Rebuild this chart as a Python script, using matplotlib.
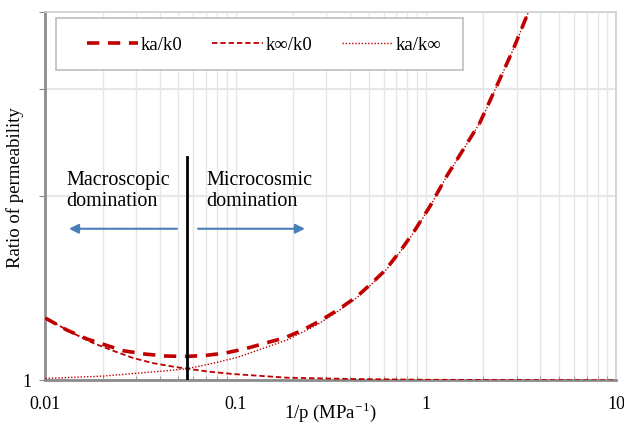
import numpy as np
import matplotlib
matplotlib.use("Agg")
import matplotlib.pyplot as plt
from matplotlib.patches import Rectangle
from matplotlib.ticker import LogLocator, NullFormatter, FixedLocator

plt.rcParams['font.family'] = ['Liberation Serif', 'DejaVu Serif']
plt.rcParams['mathtext.fontset'] = 'stix'

# values
x_ka_k0 = [0.01, 0.01293, 0.01647, 0.02055, 0.02556, 0.03336, 0.04249, 0.05412,
           0.06897, 0.08786, 0.1119, 0.1426, 0.1816, 0.2259, 0.2775, 0.345, 0.4345,
           0.508, 0.6095, 0.7311, 0.859, 1.051, 1.286, 1.574, 1.925, 2.357, 2.881,
           3.453, 3.65]
y_ka_k0 = [1.264, 1.209, 1.169, 1.143, 1.118, 1.104, 1.096, 1.094,
           1.098, 1.108, 1.126, 1.150, 1.174, 1.209, 1.251, 1.304, 1.371,
           1.433, 1.512, 1.625, 1.744, 1.926, 2.157, 2.386, 2.641, 3.029, 3.479,
           3.997, 4.17]

x_kinf_k0 = [0.01, 0.01345, 0.01777, 0.02264, 0.02884, 0.03674, 0.04681, 0.05546,
             0.07063, 0.09683, 0.1861, 0.414, 1.0, 3.0, 10.0]
y_kinf_k0 = [1.265, 1.201, 1.151, 1.118, 1.088, 1.067, 1.053, 1.045,
             1.034, 1.024, 1.010, 1.005, 1.002, 1.001, 1.0]

x_ka_kinf = [0.01, 0.02006, 0.03027, 0.04355, 0.05546, 0.07597, 0.0826, 0.1028,
             0.1861, 0.2675, 0.345, 0.4345, 0.508, 0.6095, 0.7311, 0.859, 1.051,
             1.286, 1.574, 1.925, 2.357, 2.881, 3.453, 3.65]
y_ka_kinf = [1.007, 1.016, 1.027, 1.037, 1.045, 1.066, 1.073, 1.091,
             1.164, 1.232, 1.297, 1.366, 1.428, 1.508, 1.621, 1.741, 1.923,
             2.155, 2.384, 2.639, 3.027, 3.477, 3.995, 4.17]

x_split = 0.0555
x_ticks = [0.01, 0.1, 1, 10]
x_tick_labels = ['0.01', '0.1', '1', '10']
y_ticks = [1, 2, 3, 4]
y_tick_labels = ['1', '', '', '']

red = '#C00000'
blue = '#4A7EBB'

fig = plt.figure(figsize=(6.24, 4.23), dpi=100)
ax = fig.add_axes([0.0729, 0.1009, 0.9143, 0.87])

ax.plot(x_ka_k0, y_ka_k0, color=red, lw=2.6, dashes=(3.4, 2.4), label='ka/k0', zorder=3)
ax.plot(x_kinf_k0, y_kinf_k0, color=red, lw=1.3, dashes=(3, 1.6), label='k∞/k0', zorder=3)
ax.plot(x_ka_kinf, y_ka_kinf, color=red, lw=1.0, dashes=(1, 1.3), label='ka/k∞', zorder=3)

ax.set_xscale('log')
ax.set_yscale('log')
ax.set_xlim(0.01, 10)
ax.set_ylim(1, 4)

ax.xaxis.set_major_locator(FixedLocator(x_ticks))
ax.set_xticklabels(x_tick_labels)
ax.xaxis.set_minor_locator(LogLocator(base=10, subs=np.arange(2, 10)))
ax.xaxis.set_minor_formatter(NullFormatter())
ax.yaxis.set_major_locator(FixedLocator(y_ticks))
ax.set_yticklabels(y_tick_labels)
ax.yaxis.set_minor_locator(FixedLocator([]))
ax.yaxis.set_minor_formatter(NullFormatter())

ax.grid(True, which='both', axis='x', color='#e6e6e6', lw=1)
ax.grid(True, which='major', axis='y', color='#e6e6e6', lw=1.5)
ax.set_axisbelow(True)

for s in ['top', 'right']:
    ax.spines[s].set_color('#d0d0d0')
    ax.spines[s].set_linewidth(1.2)
for s in ['left', 'bottom']:
    ax.spines[s].set_color('#8c8c8c')
    ax.spines[s].set_linewidth(2)

ax.tick_params(axis='both', which='both', colors='#8c8c8c', labelcolor='black',
               labelsize=13)
ax.tick_params(axis='x', which='major', length=0, pad=11)
ax.tick_params(axis='x', which='minor', direction='in', length=3)
ax.tick_params(axis='y', which='major', length=4, pad=6)

fig.text(330 / 624, 1 - 412 / 423, '1/p (MPa$^{\\mathregular{-1}}$)', fontsize=13.5,
         ha='center', va='center')
fig.text(15 / 624, 1 - 188 / 423, 'Ratio of permeability', fontsize=13.5,
         rotation=90, ha='center', va='center')

# split line and annotations
ax.plot([x_split, x_split], [1, 2.323], color='black', lw=2, zorder=4)
ax.text(0.01282, 2.04, 'Macroscopic\ndomination', fontsize=14.5, ha='left',
        va='center', linespacing=1.2)
ax.text(0.0704, 2.04, 'Microcosmic\ndomination', fontsize=14.5, ha='left',
        va='center', linespacing=1.2)
ax.annotate('', xy=(0.01329, 1.77), xytext=(0.0491, 1.77),
            arrowprops=dict(arrowstyle='-|>', color=blue, lw=1.5,
                            mutation_scale=14, shrinkA=0, shrinkB=0))
ax.annotate('', xy=(0.2313, 1.77), xytext=(0.0634, 1.77),
            arrowprops=dict(arrowstyle='-|>', color=blue, lw=1.5,
                            mutation_scale=14, shrinkA=0, shrinkB=0))

# legend box drawn separately so the entries can sit inside it like the original
ax.add_patch(Rectangle((0.0184, 0.843), 0.713, 0.1415, transform=ax.transAxes,
                       facecolor='white', edgecolor='#bfbfbf', lw=1.2, zorder=4.8))
leg = ax.legend(loc='center left', bbox_to_anchor=(0.0727, 0.911), ncol=3,
                fontsize=13.5, frameon=False, borderaxespad=0, borderpad=0,
                handlelength=2.7, handletextpad=0.15, columnspacing=1.6)
leg.set_zorder(5)

fig.savefig('out.png', dpi=100)
